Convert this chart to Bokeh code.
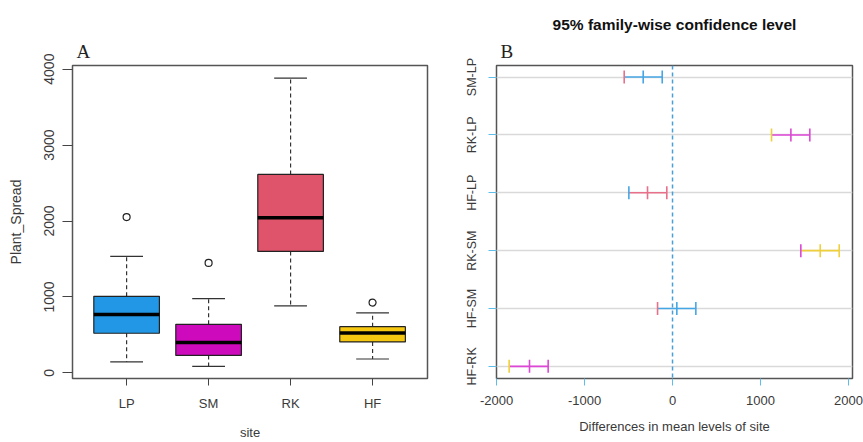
from math import pi
from bokeh.plotting import figure
from bokeh.models import FixedTicker, Span, Title, Range1d
from bokeh.layouts import row
from bokeh.embed import file_html
from bokeh.resources import INLINE

# ---------------- Panel A data (box plot of Plant_Spread by site) ----------------
sites = ["LP", "SM", "RK", "HF"]
lower_whisker = [144, 86, 882, 183]
q1 = [522, 230, 1600, 408]
median = [770, 399, 2043, 526]
q3 = [1008, 639, 2613, 608]
upper_whisker = [1534, 978, 3883, 791]
outlier_site = ["LP", "SM", "HF"]
outlier_value = [2052, 1448, 926]
y_ticks_a = [0, 1000, 2000, 3000, 4000]

# ---------------- Panel B data (Tukey HSD intervals) ----------------
comparisons = ["SM-LP", "RK-LP", "HF-LP", "RK-SM", "HF-SM", "HF-RK"]
diff = [-333, 1345, -284, 1678, 49, -1625]
lwr = [-549, 1125, -496, 1458, -170, -1856]
upr = [-117, 1560, -65, 1894, 265, -1413]
x_ticks_b = [-2000, -1000, 0, 1000, 2000]

# ---------------- styles ----------------
FONT = "Liberation Sans"
SERIF = "Liberation Serif"
TXT = "#3a3a3a"
FRAME = "#555555"
box_colors = ["#2297E6", "#CD0BBC", "#DF536B", "#F5C710"]
BLUE, MAG, PINK, YEL = "#45A6E6", "#DD46D6", "#E8708A", "#F0D03A"
line_colors_b = [BLUE, MAG, PINK, YEL, BLUE, MAG]
left_colors_b = [PINK, YEL, BLUE, MAG, PINK, YEL]
TICK_BLUE = "#5DBDEB"


def style_axes(p):
    for ax in p.axis:
        ax.axis_label_text_font = FONT
        ax.axis_label_text_font_style = "normal"
        ax.axis_label_text_color = TXT
        ax.axis_label_text_font_size = "13px"
        ax.major_label_text_font = FONT
        ax.major_label_text_color = TXT
        ax.major_label_text_font_size = "13px"
        ax.minor_tick_line_color = None
        ax.major_tick_in = 0
        ax.axis_line_color = None


# ---------------- Panel A ----------------
pos = [i + 1 for i in range(len(sites))]
pa = figure(width=431, height=442, x_range=Range1d(0.34, 4.67), y_range=Range1d(-74, 4048),
            output_backend="svg", toolbar_location=None,
            min_border_left=72, min_border_right=4, min_border_top=64, min_border_bottom=62,
            x_axis_label="site", y_axis_label="Plant_Spread")
pa.grid.visible = False
pa.outline_line_color = FRAME
pa.outline_line_width = 1.5
style_axes(pa)
pa.xaxis.ticker = FixedTicker(ticks=pos)
pa.xaxis.major_label_overrides = {p_: s for p_, s in zip(pos, sites)}
pa.xaxis.major_tick_out = 7
pa.xaxis.major_label_standoff = 10
pa.xaxis.axis_label_standoff = 11
pa.yaxis.ticker = FixedTicker(ticks=y_ticks_a)
pa.yaxis.major_tick_out = 10
pa.yaxis.major_label_orientation = "vertical"
pa.yaxis.major_label_text_font_size = "14px"
pa.yaxis.axis_label_text_font_size = "14px"
pa.yaxis.major_label_standoff = 8
pa.yaxis.axis_label_standoff = 18
pa.axis.major_tick_line_color = "#444444"

# whiskers (dashed)
pa.segment(x0=pos, x1=pos, y0=q3, y1=upper_whisker, line_color="#333333", line_width=1.2, line_dash="4 3")
pa.segment(x0=pos, x1=pos, y0=q1, y1=lower_whisker, line_color="#333333", line_width=1.2, line_dash="4 3")
# caps
pa.segment(x0=[p_ - 0.2 for p_ in pos], x1=[p_ + 0.2 for p_ in pos], y0=upper_whisker, y1=upper_whisker,
           line_color="#333333", line_width=1.2)
pa.segment(x0=[p_ - 0.2 for p_ in pos], x1=[p_ + 0.2 for p_ in pos], y0=lower_whisker, y1=lower_whisker,
           line_color="#333333", line_width=1.2)
# boxes
pa.vbar(x=pos, width=0.8, bottom=q1, top=q3, fill_color=box_colors, line_color="#222222", line_width=1.2)
# medians
pa.segment(x0=[p_ - 0.4 for p_ in pos], x1=[p_ + 0.4 for p_ in pos], y0=median, y1=median,
           line_color="black", line_width=3.5)
# outliers
out_x = [pos[sites.index(s)] for s in outlier_site]
pa.scatter(x=out_x, y=outlier_value, marker="circle", size=7, fill_color="white",
           line_color="#222222", line_width=1.2)

pa.add_layout(Title(text="A", text_font=SERIF, text_font_size="19px", text_font_style="normal",
                    text_color="#222222", align="left", offset=4, standoff=8), "above")

# ---------------- Panel B ----------------
rows = [len(comparisons) - i for i in range(len(comparisons))]
pb = figure(width=432, height=442, x_range=Range1d(-2000, 2045), y_range=Range1d(0.79, 6.2),
            output_backend="svg", toolbar_location=None,
            min_border_left=65, min_border_right=11, min_border_top=65, min_border_bottom=62,
            x_axis_label="Differences in mean levels of site")
pb.xgrid.visible = False
pb.ygrid.ticker = FixedTicker(ticks=rows)
pb.ygrid.grid_line_color = "#D9D9D9"
pb.ygrid.grid_line_width = 1.3
pb.outline_line_color = FRAME
pb.outline_line_width = 1.5
style_axes(pb)
pb.xaxis.ticker = FixedTicker(ticks=x_ticks_b)
pb.xaxis.major_label_overrides = {t: str(t) for t in x_ticks_b}
pb.xaxis.major_tick_out = 7
pb.xaxis.major_label_standoff = 10
pb.xaxis.axis_label_standoff = 11
pb.yaxis.ticker = FixedTicker(ticks=rows)
pb.yaxis.major_label_overrides = {r: c for r, c in zip(rows, comparisons)}
pb.yaxis.major_tick_out = 8
pb.yaxis.major_label_orientation = "vertical"
pb.yaxis.major_label_text_font_size = "12.5px"
pb.yaxis.major_label_standoff = 9
pb.axis.major_tick_line_color = TICK_BLUE

pb.add_layout(Span(location=0, dimension="height", line_color="#4A9FD8", line_width=1.5, line_dash="4 3"))

pb.segment(x0=lwr, x1=upr, y0=rows, y1=rows, line_color=line_colors_b, line_width=1.6)
pb.scatter(x=diff, y=rows, marker="dash", angle=pi / 2, size=13, line_color=line_colors_b, line_width=1.6)
pb.scatter(x=upr, y=rows, marker="dash", angle=pi / 2, size=13, line_color=line_colors_b, line_width=1.6)
pb.scatter(x=lwr, y=rows, marker="dash", angle=pi / 2, size=13, line_color=left_colors_b, line_width=1.6)

pb.add_layout(Title(text="B", text_font=SERIF, text_font_size="19px", text_font_style="normal",
                    text_color="#222222", align="left", offset=4, standoff=8), "above")
pb.add_layout(Title(text="95% family-wise confidence level", text_font=FONT, text_font_size="15.5px",
                    text_font_style="bold", text_color="#111111", align="center", standoff=4), "above")

layout = row(pa, pb)
open("out.html", "w").write(file_html(layout, INLINE))
